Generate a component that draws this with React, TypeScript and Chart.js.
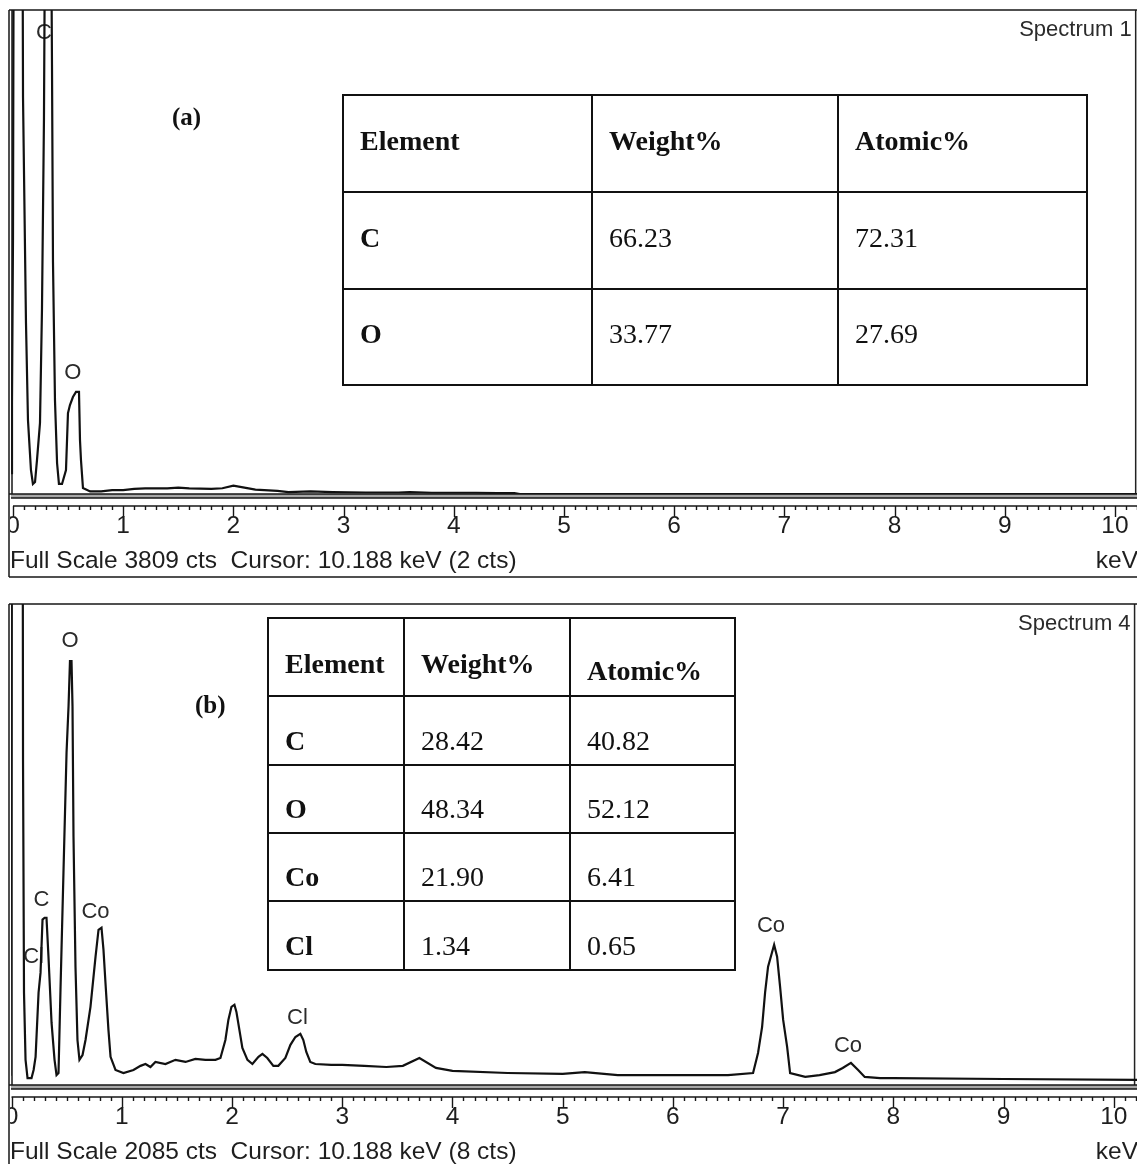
import React, { useEffect, useRef } from 'react';
import { Chart, registerables } from 'chart.js';

Chart.register(...registerables);

// ---------------- Panel (a) : Spectrum 1 ----------------
const energyA = [-0.018, -0.009, 0.0, 0.01, 0.082, 0.091, 0.118, 0.136, 0.163, 0.181, 0.2, 0.218, 0.245, 0.263, 0.281, 0.3, 0.336, 0.354, 0.363, 0.381, 0.4, 0.417, 0.445, 0.481, 0.499, 0.517, 0.544, 0.572, 0.599, 0.608, 0.617, 0.635, 0.7, 0.8, 0.9, 1.0, 1.1, 1.2, 1.4, 1.5, 1.6, 1.8, 1.9, 2.0, 2.1, 2.2, 2.4, 2.5, 2.7, 2.9, 3.2, 3.5, 3.6, 3.8, 4.2, 4.4, 4.55, 4.6, 5.0, 10.25];
const countsA = [165, 716, 2000, 6000, 6000, 3124, 1346, 582, 189, 79, 94, 268, 559, 1448, 2943, 6000, 6000, 3376, 1826, 740, 244, 79, 79, 189, 637, 700, 763, 803, 803, 425, 268, 47, 20, 20, 30, 30, 40, 45, 45, 50, 45, 40, 45, 65, 50, 35, 25, 15, 20, 15, 12, 12, 15, 10, 10, 8, 8, 0, 0, 0];
const fullScaleA = 3809;
const cursorCtsA = 2;
const peakTextA = ['C', 'O'];
const peakEnergyA = [0.281, 0.544];
const peakCountsA = [3628, 952];

// ---------------- Panel (b) : Spectrum 4 ----------------
const energyB = [-0.01, 0.005, 0.1, 0.104, 0.113, 0.127, 0.145, 0.181, 0.2, 0.218, 0.245, 0.263, 0.281, 0.3, 0.317, 0.335, 0.363, 0.39, 0.408, 0.426, 0.444, 0.471, 0.499, 0.517, 0.53, 0.544, 0.553, 0.562, 0.58, 0.598, 0.616, 0.644, 0.671, 0.716, 0.762, 0.789, 0.816, 0.834, 0.852, 0.879, 0.898, 0.943, 1.015, 1.106, 1.17, 1.215, 1.26, 1.305, 1.396, 1.487, 1.578, 1.668, 1.759, 1.85, 1.895, 1.94, 1.967, 1.995, 2.022, 2.04, 2.067, 2.094, 2.14, 2.185, 2.24, 2.276, 2.32, 2.375, 2.42, 2.484, 2.53, 2.575, 2.62, 2.647, 2.674, 2.71, 2.756, 2.9, 3.0, 3.2, 3.4, 3.55, 3.7, 3.85, 4.0, 4.5, 5.0, 5.2, 5.5, 6.0, 6.5, 6.727, 6.772, 6.809, 6.836, 6.863, 6.918, 6.945, 6.972, 7.0, 7.036, 7.063, 7.2, 7.33, 7.47, 7.54, 7.615, 7.68, 7.74, 7.88, 8.0, 9.0, 10.25];
const countsB = [40, 3000, 3000, 1412, 400, 109, 30, 30, 65, 122, 400, 487, 717, 725, 725, 556, 269, 109, 43, 52, 413, 921, 1442, 1642, 1837, 1837, 1642, 1077, 513, 195, 109, 130, 195, 339, 556, 673, 682, 586, 443, 239, 122, 65, 52, 65, 83, 91, 78, 100, 91, 109, 100, 113, 109, 109, 117, 195, 282, 339, 348, 317, 239, 161, 109, 91, 122, 135, 117, 83, 83, 117, 174, 208, 222, 195, 143, 100, 91, 87, 87, 83, 78, 83, 117, 74, 61, 52, 48, 56, 43, 43, 43, 52, 139, 252, 400, 513, 608, 556, 426, 282, 165, 52, 35, 43, 56, 74, 96, 65, 35, 30, 30, 26, 22];
const fullScaleB = 2085;
const cursorCtsB = 8;
const peakTextB = ['O', 'C', 'Cl', 'Co', 'Cl', 'Co', 'Co'];
const peakEnergyB = [0.53, 0.272, 0.2, 0.762, 2.593, 6.89, 7.588];
const peakCountsB = [1924, 804, 556, 751, 291, 691, 169];

const cursorKeV = 10.188;
const tickValues = [0, 1, 2, 3, 4, 5, 6, 7, 8, 9, 10];

// ---------------- Tables ----------------
const tableHeader = ['Element', 'Weight%', 'Atomic%'];
const elementsA = ['C', 'O'];
const weightA = ['66.23', '33.77'];
const atomicA = ['72.31', '27.69'];
const elementsB = ['C', 'O', 'Co', 'Cl'];
const weightB = ['28.42', '48.34', '21.90', '1.34'];
const atomicB = ['40.82', '52.12', '6.41', '0.65'];

const SANS = '"Liberation Sans", Arial, sans-serif';
const SERIF = '"Liberation Serif", "Times New Roman", serif';

type PanelCfg = {
  energies: number[];
  counts: number[];
  fullScale: number;
  cursorCts: number;
  spectrumName: string;
  peakText: string[];
  peakEnergy: number[];
  peakCounts: number[];
  xMin: number;
  xMax: number;
  canvasH: number;
  plotLeft: number;
  plotTop: number;
  plotBottom: number;
  frameBottom: number;
};

function makeDecor(cfg: PanelCfg) {
  const line = (ctx: CanvasRenderingContext2D, x1: number, y1: number, x2: number, y2: number) => {
    ctx.beginPath();
    ctx.moveTo(x1, y1);
    ctx.lineTo(x2, y2);
    ctx.stroke();
  };
  return {
    id: 'edsDecor',
    beforeDatasetsDraw(chart: any) {
      const ctx: CanvasRenderingContext2D = chart.ctx;
      const xs = chart.scales.x;
      const ys = chart.scales.y;
      ctx.save();
      ctx.fillStyle = '#2b2b2b';
      ctx.font = '22px ' + SANS;
      ctx.textAlign = 'center';
      ctx.textBaseline = 'middle';
      cfg.peakText.forEach((t, i) => {
        ctx.fillText(t, xs.getPixelForValue(cfg.peakEnergy[i]), ys.getPixelForValue(cfg.peakCounts[i]));
      });
      ctx.textAlign = 'right';
      ctx.fillText(cfg.spectrumName, xs.getPixelForValue(cursorKeV) - 4, chart.chartArea.top + 20);
      ctx.restore();
    },
    afterDraw(chart: any) {
      const ctx: CanvasRenderingContext2D = chart.ctx;
      const xs = chart.scales.x;
      const { left: L, top: T, bottom: B } = chart.chartArea;
      const R = chart.width;
      ctx.save();
      ctx.strokeStyle = '#161616';
      ctx.lineWidth = 1.5;
      // outer frame
      line(ctx, 9, T, 9, cfg.frameBottom);
      line(ctx, 9, T, R, T);
      line(ctx, 9, cfg.frameBottom, R, cfg.frameBottom);
      line(ctx, L + 1, T, L + 1, B);
      // bottom double line of the plot area
      ctx.fillStyle = '#a8a8a8';
      ctx.fillRect(L, B, R - L, 4);
      line(ctx, 9, B, R, B);
      line(ctx, L, B + 4, R, B + 4);
      // energy ruler
      const ry = B + 12;
      const x0 = xs.getPixelForValue(0);
      ctx.lineWidth = 1.4;
      line(ctx, x0, ry, R, ry);
      const nTicks = Math.floor(cfg.xMax * 10 + 1e-6);
      for (let i = 0; i <= nTicks; i++) {
        const px = Math.round(xs.getPixelForValue(i / 10)) + 0.5;
        const len = i % 10 === 0 ? 11 : 4;
        line(ctx, px, ry, px, ry + len);
      }
      // tick labels (clipped at the frame)
      ctx.save();
      ctx.beginPath();
      ctx.rect(10, B, R - 10, 60);
      ctx.clip();
      ctx.fillStyle = '#1e1e1e';
      ctx.font = '24.5px ' + SANS;
      ctx.textAlign = 'center';
      ctx.textBaseline = 'middle';
      tickValues.forEach((v) => {
        ctx.fillText(String(v), xs.getPixelForValue(v), B + 32);
      });
      ctx.restore();
      // footer text
      ctx.fillStyle = '#1e1e1e';
      ctx.font = '24.5px ' + SANS;
      ctx.textBaseline = 'middle';
      ctx.textAlign = 'left';
      ctx.fillText(
        `Full Scale ${cfg.fullScale} cts  Cursor: ${cursorKeV.toFixed(3)} keV (${cfg.cursorCts} cts)`,
        10,
        B + 67
      );
      ctx.textAlign = 'right';
      ctx.fillText('keV', R + 1, B + 67);
      ctx.restore();
    },
  };
}

function Spectrum({ cfg, top }: { cfg: PanelCfg; top: number }) {
  const ref = useRef<HTMLCanvasElement | null>(null);
  useEffect(() => {
    if (!ref.current) return;
    const chart = new Chart(ref.current, {
      type: 'line',
      data: {
        datasets: [
          {
            data: cfg.energies.map((e, i) => ({ x: e, y: cfg.counts[i] })),
            borderColor: '#111',
            borderWidth: 2.2,
            pointRadius: 0,
            tension: 0,
            fill: false,
          },
          {
            data: [
              { x: cursorKeV, y: 0 },
              { x: cursorKeV, y: cfg.fullScale },
            ],
            borderColor: '#222',
            borderWidth: 1.5,
            pointRadius: 0,
            fill: false,
          },
        ],
      },
      options: {
        responsive: false,
        animation: false,
        events: [],
        layout: {
          padding: {
            left: cfg.plotLeft,
            top: cfg.plotTop,
            right: 0,
            bottom: cfg.canvasH - cfg.plotBottom,
          },
        },
        plugins: {
          legend: { display: false },
          tooltip: { enabled: false },
          title: { display: false },
        },
        scales: {
          x: { type: 'linear', min: cfg.xMin, max: cfg.xMax, display: false },
          y: { type: 'linear', min: 0, max: cfg.fullScale, display: false },
        },
      },
      plugins: [makeDecor(cfg)],
    } as any);
    return () => chart.destroy();
  }, [cfg]);
  return (
    <canvas
      ref={ref}
      width={1137}
      height={cfg.canvasH}
      style={{ position: 'absolute', left: 0, top, width: 1137, height: cfg.canvasH, display: 'block' }}
    />
  );
}

function EdsTable({
  colEdges,
  rowEdges,
  elements,
  weight,
  atomic,
  fontSize,
  headerOffsets,
  bodyOffset,
}: {
  colEdges: number[];
  rowEdges: number[];
  elements: string[];
  weight: string[];
  atomic: string[];
  fontSize: number;
  headerOffsets: number[];
  bodyOffset: number;
}) {
  const left = colEdges[0];
  const top = rowEdges[0];
  const w = colEdges[colEdges.length - 1] - left;
  const h = rowEdges[rowEdges.length - 1] - top;
  const items: any[] = [];
  items.push(
    <div
      key="box"
      style={{ position: 'absolute', left: left - 1, top: top - 1, width: w + 2, height: h + 2, border: '2px solid #111', boxSizing: 'border-box' }}
    />
  );
  for (let j = 1; j < colEdges.length - 1; j++) {
    items.push(
      <div key={'c' + j} style={{ position: 'absolute', left: colEdges[j] - 1, top, width: 2, height: h, background: '#111' }} />
    );
  }
  for (let i = 1; i < rowEdges.length - 1; i++) {
    items.push(
      <div key={'r' + i} style={{ position: 'absolute', left, top: rowEdges[i] - 1, width: w, height: 2, background: '#111' }} />
    );
  }
  const cell = (text: string, r: number, c: number, bold: boolean, off: number) => (
    <span
      key={`t${r}_${c}`}
      style={{
        position: 'absolute',
        left: colEdges[c] + 17,
        top: (rowEdges[r] + rowEdges[r + 1]) / 2 + off,
        transform: 'translateY(-50%)',
        lineHeight: 1,
        whiteSpace: 'nowrap',
        fontFamily: SERIF,
        fontSize,
        fontWeight: bold ? 700 : 400,
        color: '#111',
      }}
    >
      {text}
    </span>
  );
  tableHeader.forEach((t, c) => items.push(cell(t, 0, c, true, headerOffsets[c])));
  elements.forEach((el, i) => {
    items.push(cell(el, i + 1, 0, true, bodyOffset));
    items.push(cell(weight[i], i + 1, 1, false, bodyOffset));
    items.push(cell(atomic[i], i + 1, 2, false, bodyOffset));
  });
  return <>{items}</>;
}

const cfgA: PanelCfg = {
  energies: energyA,
  counts: countsA,
  fullScale: fullScaleA,
  cursorCts: cursorCtsA,
  spectrumName: 'Spectrum 1',
  peakText: peakTextA,
  peakEnergy: peakEnergyA,
  peakCounts: peakCountsA,
  xMin: -0.018,
  xMax: 10.2,
  canvasH: 585,
  plotLeft: 11,
  plotTop: 10,
  plotBottom: 494,
  frameBottom: 577,
};

const cfgB: PanelCfg = {
  energies: energyB,
  counts: countsB,
  fullScale: fullScaleB,
  cursorCts: cursorCtsB,
  spectrumName: 'Spectrum 4',
  peakText: peakTextB,
  peakEnergy: peakEnergyB,
  peakCounts: peakCountsB,
  xMin: -0.005,
  xMax: 10.21,
  canvasH: 579,
  plotLeft: 11,
  plotTop: 19,
  plotBottom: 500,
  frameBottom: 590,
};

export default function App() {
  return (
    <div
      style={{
        position: 'absolute',
        left: 0,
        top: 0,
        width: 1137,
        height: 1164,
        overflow: 'hidden',
        background: '#fff',
      }}
    >
      <Spectrum cfg={cfgA} top={0} />
      <Spectrum cfg={cfgB} top={585} />
      <div
        style={{ position: 'absolute', left: 172, top: 104, fontFamily: SERIF, fontWeight: 700, fontSize: 25, lineHeight: 1, color: '#111' }}
      >
        (a)
      </div>
      <div
        style={{ position: 'absolute', left: 195, top: 692, fontFamily: SERIF, fontWeight: 700, fontSize: 25, lineHeight: 1, color: '#111' }}
      >
        (b)
      </div>
      <EdsTable
        colEdges={[343, 592, 838, 1087]}
        rowEdges={[95, 192, 289, 385]}
        elements={elementsA}
        weight={weightA}
        atomic={atomicA}
        fontSize={28}
        headerOffsets={[-3, -3, -3]}
        bodyOffset={-3}
      />
      <EdsTable
        colEdges={[268, 404, 570, 735]}
        rowEdges={[618, 696, 765, 833, 901, 970]}
        elements={elementsB}
        weight={weightB}
        atomic={atomicB}
        fontSize={28}
        headerOffsets={[7, 7, 14]}
        bodyOffset={10}
      />
    </div>
  );
}
